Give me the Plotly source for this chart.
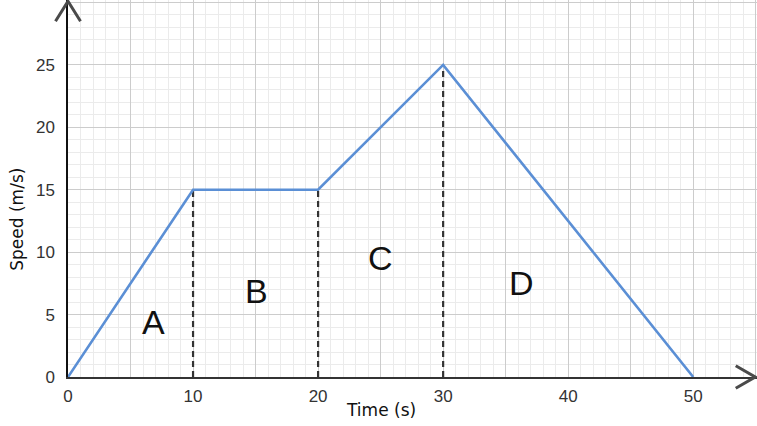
import plotly.graph_objects as go

# speed-time graph data
time_s = [0, 10, 20, 30, 50]
speed_ms = [0, 15, 15, 25, 0]

# dashed drop lines separating the regions
drop_x = [10, 20, 30]
drop_top = [15, 15, 25]

# region labels
region_names = ['A', 'B', 'C', 'D']
region_x = [6.8, 15.1, 25.0, 36.3]
region_y = [4.4, 6.9, 9.5, 7.5]

x_tickvals = list(range(0, 60, 5))
x_ticktext = ['0', '', '10', '', '20', '', '30', '', '40', '', '50', '']
y_tickvals = list(range(0, 35, 5))
y_ticktext = ['0', '5', '10', '15', '20', '25', '']

x_range = [0, 55.1]
y_range = [0, 30.2]

W, H = 757, 426
ml, mr, mt, mb = 68, 0, 0, 49

tick_font = dict(family='Liberation Sans, Arial, sans-serif', size=17, color='#333333')
axis_font = dict(family='DejaVu Sans, sans-serif', size=17, color='#111111')

fig = go.Figure()

for x, top in zip(drop_x, drop_top):
    fig.add_trace(go.Scatter(x=[x, x], y=[0, top], mode='lines',
                             line=dict(color='#333333', width=2.2, dash='6px,4px'),
                             showlegend=False, hoverinfo='skip'))

fig.add_trace(go.Scatter(x=time_s, y=speed_ms, mode='lines',
                         line=dict(color='#5b8fd5', width=2.6),
                         showlegend=False))

for name, x, y in zip(region_names, region_x, region_y):
    fig.add_annotation(x=x, y=y, text=name, showarrow=False,
                       font=dict(family='Liberation Sans, Arial, sans-serif', size=34, color='#111111'))

fig.add_annotation(x=25, y=0, yshift=-33, text='Time (s)', showarrow=False, font=axis_font)
fig.add_annotation(x=0, y=12.6, xshift=-51, text='Speed (m/s)', textangle=-90,
                   showarrow=False, font=axis_font)


# axis arrow heads, given in data units then turned into paper units
def px_(x):
    return (x - x_range[0]) / (x_range[1] - x_range[0])


def py_(y):
    return (y - y_range[0]) / (y_range[1] - y_range[0])


arrow_col = '#4a4a4a'
fig.add_shape(type='path', xref='paper', yref='paper',
              path=f'M {px_(53.4)} {py_(0.9)} L {px_(54.95)} {py_(0)} L {px_(53.4)} {py_(-0.9)}',
              line=dict(color=arrow_col, width=3))
fig.add_shape(type='path', xref='paper', yref='paper',
              path=f'M {px_(-1.0)} {py_(28.5)} L {px_(0)} {py_(30.1)} L {px_(1.0)} {py_(28.5)}',
              line=dict(color=arrow_col, width=3))

fig.update_xaxes(range=x_range, tickmode='array', tickvals=x_tickvals, ticktext=x_ticktext,
                 showgrid=True, gridcolor='#cccccc', gridwidth=1,
                 minor=dict(tick0=0, dtick=1, showgrid=True, gridcolor='#ebebeb', gridwidth=1),
                 zeroline=False, showline=True, linecolor='#333333', linewidth=2,
                 ticks='outside', ticklen=3, tickcolor='rgba(0,0,0,0)',
                 tickfont=tick_font, fixedrange=True)
fig.update_yaxes(range=y_range, tickmode='array', tickvals=y_tickvals, ticktext=y_ticktext,
                 showgrid=True, gridcolor='#cccccc', gridwidth=1,
                 minor=dict(tick0=0, dtick=1, showgrid=True, gridcolor='#ebebeb', gridwidth=1),
                 zeroline=False, showline=True, linecolor='#111111', linewidth=1.5,
                 ticks='outside', ticklen=8, tickcolor='rgba(0,0,0,0)',
                 tickfont=tick_font, fixedrange=True)

fig.update_layout(width=W, height=H, margin=dict(l=ml, r=mr, t=mt, b=mb),
                  plot_bgcolor='white', paper_bgcolor='white')

# the page has a default 8px body margin; drop it so the figure fills the window
fig.write_html("out.html", config={'displayModeBar': False},
               post_script="document.body.style.margin='0px';")
